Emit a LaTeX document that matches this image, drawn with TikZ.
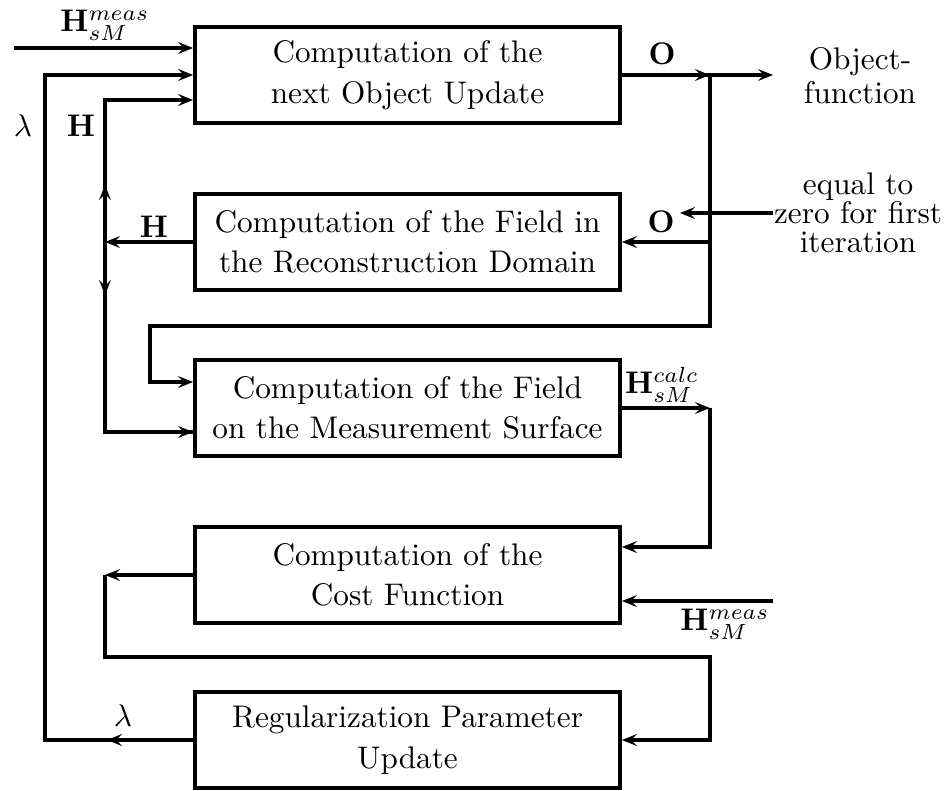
\documentclass[tikz,border=0pt]{standalone}
\usetikzlibrary{arrows.meta}
\begin{document}
\begin{tikzpicture}[x=0.32pt,y=-0.32pt,
  line width=1.25pt,
  blk/.style={draw,line width=1.25pt,minimum width=136pt,minimum height=31pt,align=center,inner sep=0pt,font=\fontsize{10}{13}\selectfont},
  arr/.style={-{Stealth[length=4.8pt,width=3.8pt,inset=1.9pt]}},
  lbl/.style={inner sep=0pt,font=\fontsize{10}{12}\selectfont}]
\useasboundingbox (0,0) rectangle (952,791);
% boxes
\node[blk] (b1) at (407.5,75) {Computation of the\\next Object Update};
\node[blk] (b2) at (407.5,242) {Computation of the Field in\\the Reconstruction Domain};
\node[blk] (b3) at (407.5,408) {Computation of the Field\\on the Measurement Surface};
\node[blk] (b4) at (407.5,575) {Computation of the\\Cost Function};
\node[blk] (b5) at (407.5,740) {Regularization Parameter\\Update};
% coordinates
\coordinate (inM) at (14,48);
\coordinate (lamTop) at (45,75);
\coordinate (lamBot) at (45,740);
\coordinate (lamMid) at (107,740);
\coordinate (hTop) at (105,100);
\coordinate (hJ) at (105,242);
\coordinate (hUp) at (105,185);
\coordinate (hDn) at (105,295);
\coordinate (hBot) at (105,432);
\coordinate (oJ) at (710,75);
\coordinate (oOut) at (773,75);
\coordinate (oJ2) at (710,242);
\coordinate (oLow) at (710,326);
\coordinate (oLeft) at (150,326);
\coordinate (oIn3) at (150,382);
\coordinate (zIn) at (773,213);
\coordinate (zTip) at (680,213);
\coordinate (cJ) at (710,408);
\coordinate (cB) at (710,547);
\coordinate (mIn) at (773,601);
\coordinate (kJ) at (105,575);
\coordinate (kB) at (105,657);
\coordinate (kR) at (710,657);
\coordinate (kR2) at (710,740);
% connectors
\draw[arr] (inM) -- (b1.west |- inM);
\draw[arr] (b5.west) -- (lamBot) -- (lamTop) -- (b1.west |- lamTop);
\draw[arr] (b5.west) -- (lamMid);
\draw[arr] (b2.west) -- (hJ);
\draw[arr] (b3.west |- hBot) -- (hBot) -- (hTop) -- (b1.west |- hTop);
\draw[arr] (hJ) -- (hUp);
\draw[arr] (hJ) -- (hDn);
\draw[arr] (hDn) -- (hBot) -- (b3.west |- hBot);
\draw[arr] (b1.east) -- (oOut);
\draw[arr] (b1.east) -- (oJ);
\draw[arr] (oJ) -- (oLow) -- (oLeft) -- (oIn3) -- (b3.west |- oIn3);
\draw[arr] (oJ2) -- (b2.east);
\draw[arr] (zIn) -- (zTip);
\draw[arr] (b3.east) -- (cJ);
\draw[arr] (cJ) -- (cB) -- (b4.east |- cB);
\draw[arr] (mIn) -- (b4.east |- mIn);
\draw[arr] (b4.west) -- (kJ);
\draw[arr] (kJ) -- (kB) -- (kR) -- (kR2) -- (b5.east);
% labels
\node[lbl] (lMeasTop) at (105,25) {$\mathbf{H}_{sM}^{meas}$};
\node[lbl] (lLamL) at (23,126) {$\lambda$};
\node[lbl] (lH1) at (81,126) {$\mathbf{H}$};
\node[lbl] (lH2) at (154,227) {$\mathbf{H}$};
\node[lbl] (lO1) at (662,54) {$\mathbf{O}$};
\node[lbl] (lO2) at (661,222) {$\mathbf{O}$};
\node[lbl,align=center,font=\fontsize{10}{10.8}\selectfont] (lObj) at (860,76) {Object-\\function};
\node[lbl,align=center,font=\fontsize{10}{9.2}\selectfont] (lZero) at (858,213) {equal to\\zero for first\\iteration};
\node[lbl] (lCalc) at (662,385) {$\mathbf{H}_{sM}^{calc}$};
\node[lbl] (lMeasBot) at (725,624) {$\mathbf{H}_{sM}^{meas}$};
\node[lbl] (lLamB) at (123,716) {$\lambda$};
\end{tikzpicture}
\end{document}
